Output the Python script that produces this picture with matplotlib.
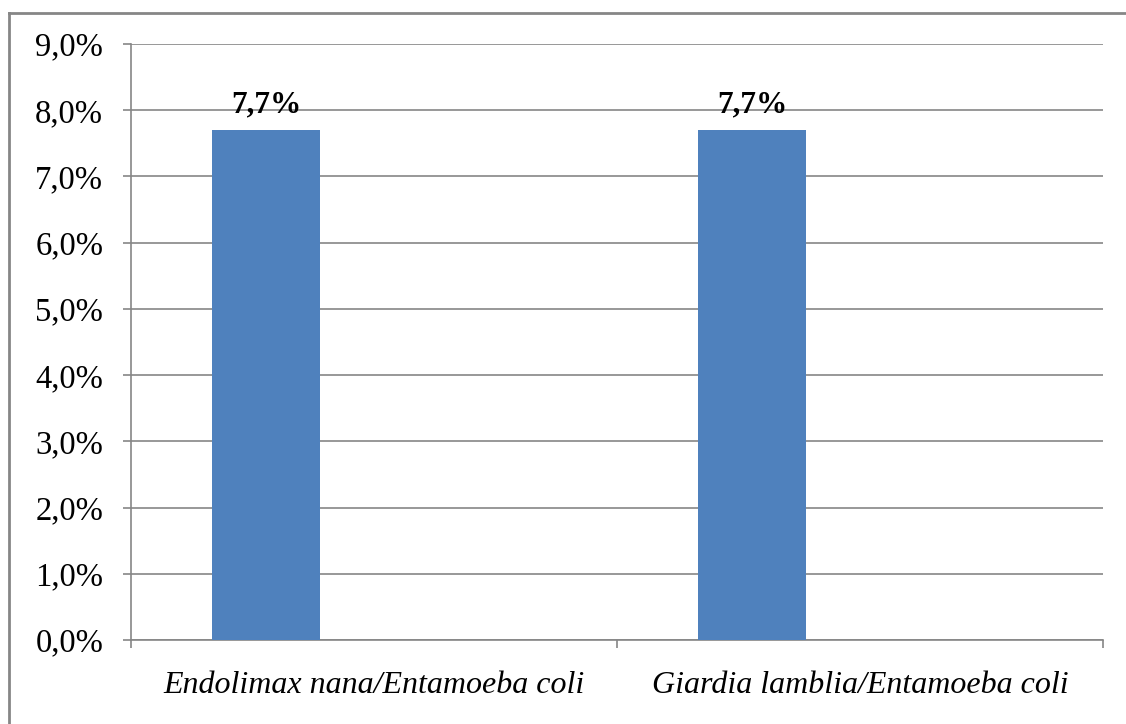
import matplotlib
matplotlib.use("Agg")
import matplotlib.pyplot as plt
from matplotlib.lines import Line2D
from matplotlib.ticker import FuncFormatter, MultipleLocator

categories = ["Endolimax nana/Entamoeba coli", "Giardia lamblia/Entamoeba coli"]
values = [7.7, 7.7]
y_max = 9.0

bar_color = "#4F81BD"
grid_color = "#868686"

plt.rcParams["font.family"] = ["Liberation Serif", "DejaVu Serif"]

fig = plt.figure(figsize=(11.26, 7.24), dpi=100)
ax = fig.add_axes([131 / 1126, 1 - 640 / 724, (1103 - 131) / 1126, (640 - 44) / 724])

# clustered layout: three slots per category, data in the first slot
width = 1 / 4.5
xs = [i - width for i in range(len(categories))]
ax.bar(xs, values, width=width, color=bar_color, zorder=3)

for x, v in zip(xs, values):
    ax.annotate(f"{v:.1f}%".replace(".", ","), (x, v), xytext=(0, 13),
                textcoords="offset points", ha="center", va="baseline",
                fontsize=22.5, fontweight="bold")

ax.set_xlim(-0.5, len(categories) - 0.5)
ax.set_ylim(0, y_max)
ax.yaxis.set_major_locator(MultipleLocator(1))
ax.yaxis.set_major_formatter(FuncFormatter(lambda v, p: f"{v:.1f}%".replace(".", ",")))
ax.grid(axis="y", color=grid_color, linewidth=1.2, zorder=0)

ax.set_xticks([i - 0.5 for i in range(len(categories) + 1)])
ax.set_xticklabels([])
ax.set_xticks(range(len(categories)), minor=True)
ax.set_xticklabels(categories, minor=True, fontstyle="italic", fontsize=23)
ax.tick_params(axis="x", which="minor", length=0, pad=22)
ax.tick_params(axis="x", which="major", length=6, color=grid_color, width=1.2, direction="out")
ax.tick_params(axis="y", length=6, color=grid_color, width=1.2, labelsize=23.5, pad=14)

for side in ["top", "right"]:
    ax.spines[side].set_visible(False)
for side in ["left", "bottom"]:
    ax.spines[side].set_color(grid_color)
    ax.spines[side].set_linewidth(1.2)

# outer frame (top and left edges)
fig.add_artist(Line2D([9 / 1126, 9 / 1126], [0, 1 - 12.5 / 724], color=grid_color,
                      linewidth=2, transform=fig.transFigure))
fig.add_artist(Line2D([9 / 1126, 1], [1 - 12.5 / 724, 1 - 12.5 / 724], color=grid_color,
                      linewidth=2, transform=fig.transFigure))

fig.savefig("out.png", dpi=100)
